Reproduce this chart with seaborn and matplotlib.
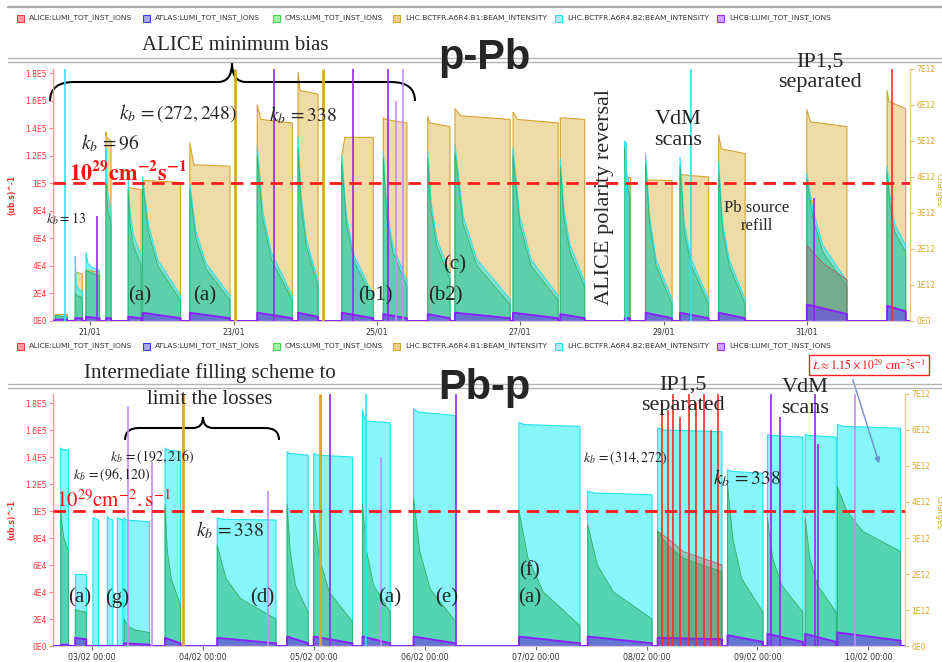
import matplotlib
matplotlib.use("Agg")
import matplotlib.pyplot as plt
import numpy as np
import pandas as pd
import seaborn as sns
from matplotlib.path import Path
from matplotlib.patches import PathPatch, Rectangle, FancyArrowPatch
from matplotlib.lines import Line2D

# ---------------- p-Pb (January, day of month) ----------------
top_start = [20.51, 20.79, 20.94, 21.22, 21.53, 21.73, 22.39, 23.33, 23.90, 24.51, 25.09,
             25.71, 26.09, 26.90, 27.56, 28.46, 28.75, 29.23, 29.77, 31.00, 32.12]
top_end = [20.68, 20.89, 21.13, 21.29, 21.71, 22.26, 22.95, 23.82, 24.18, 24.95, 25.42,
           26.02, 26.86, 27.53, 27.90, 28.53, 29.12, 29.63, 30.14, 31.56, 32.38]
# B1 intensity (charges): start, after injection drop, end
top_b1 = [[0.2e12, 0.2e12, 0.2e12], [1.36e12, 1.36e12, 1.3e12], [1.4e12, 1.4e12, 1.35e12],
          [5.25e12, 5.1e12, 5.0e12], [3.7e12, 3.7e12, 3.65e12], [3.9e12, 3.9e12, 3.85e12],
          [4.95e12, 4.34e12, 4.3e12], [6.0e12, 5.6e12, 5.5e12], [6.9e12, 6.4e12, 6.3e12],
          [4.6e12, 5.1e12, 5.1e12], [5.65e12, 5.6e12, 5.5e12], [5.67e12, 5.5e12, 5.4e12],
          [5.9e12, 5.7e12, 5.6e12], [5.8e12, 5.6e12, 5.5e12], [5.64e12, 5.64e12, 5.6e12],
          [4.0e12, 4.0e12, 4.0e12], [3.92e12, 3.92e12, 3.9e12], [4.06e12, 4.06e12, 4.0e12],
          [5.17e12, 4.78e12, 4.65e12], [5.87e12, 5.53e12, 5.4e12], [6.4e12, 6.1e12, 5.9e12]]
# B2 intensity (charges) along each fill
top_b2 = [[0.15e12, 0.15e12, 0.14e12, 0.12e12], [1.8e12, 1.0e12, 0.9e12, 0.8e12],
          [1.9e12, 1.6e12, 1.5e12, 1.4e12], [4.8e12, 4.0e12, 3.5e12, 3.0e12],
          [3.9e12, 3.0e12, 2.4e12, 1.8e12], [4.0e12, 2.7e12, 1.7e12, 0.7e12],
          [3.8e12, 2.5e12, 1.6e12, 0.7e12], [4.9e12, 3.1e12, 1.9e12, 0.7e12],
          [5.1e12, 3.5e12, 2.3e12, 1.1e12], [4.6e12, 2.9e12, 1.8e12, 0.7e12],
          [4.7e12, 3.1e12, 2.1e12, 1.1e12], [4.7e12, 3.3e12, 2.3e12, 1.3e12],
          [4.9e12, 2.9e12, 1.7e12, 0.6e12], [4.8e12, 2.9e12, 1.7e12, 0.7e12],
          [4.5e12, 3.1e12, 2.1e12, 1.1e12], [5.0e12, 4.5e12, 4.1e12, 3.7e12],
          [4.65e12, 2.9e12, 1.7e12, 0.6e12], [4.55e12, 2.7e12, 1.7e12, 0.6e12],
          [4.4e12, 2.7e12, 1.7e12, 0.6e12], [4.1e12, 3.1e12, 2.1e12, 1.1e12],
          [4.3e12, 3.5e12, 2.7e12, 2.1e12]]
# CMS luminosity (ub.s)^-1 along each fill
top_cms = [[4e3, 4e3, 3.5e3, 3e3], [2.0e4, 1.9e4, 1.8e4, 1.7e4], [3.7e4, 3.6e4, 3.5e4, 3.3e4],
           [1.0e5, 9e4, 8e4, 7e4], [9.5e4, 7e4, 5.5e4, 4e4], [1.0e5, 6.5e4, 4e4, 1.5e4],
           [9.5e4, 6e4, 3.8e4, 1.5e4], [1.2e5, 7.5e4, 4.5e4, 1.5e4], [1.25e5, 8.5e4, 5.5e4, 2.5e4],
           [1.15e5, 7e4, 4.3e4, 1.5e4], [1.18e5, 7.5e4, 5e4, 2.5e4], [1.18e5, 8e4, 5.5e4, 3e4],
           [1.22e5, 7e4, 4e4, 1.2e4], [1.2e5, 7e4, 4e4, 1.5e4], [1.12e5, 7.5e4, 5e4, 2.5e4],
           [1.25e5, 1.1e5, 1.0e5, 9e4], [1.15e5, 7e4, 4e4, 1.2e4], [1.12e5, 6.5e4, 4e4, 1.2e4],
           [1.08e5, 6.5e4, 4e4, 1.2e4], [1.03e5, 7.5e4, 5e4, 2.5e4], [1.08e5, 8.5e4, 6.5e4, 5e4]]
top_lhcb_pk = [1e3, 2e3, 3e3, 2e3, 3e3, 6e3, 6e3, 6e3, 6e3, 6e3, 5e3, 5e3, 6e3, 6e3, 5e3,
               2e3, 6e3, 6e3, 6e3, 1.2e4, 1.1e4]
top_lhcb_end = [1e3, 2e3, 2e3, 2e3, 2e3, 2e3, 2e3, 2e3, 3e3, 2e3, 2e3, 2e3, 2e3, 2e3, 2e3,
                2e3, 2e3, 2e3, 2e3, 5e3, 7e3]
top_alice_idx = [19]
top_alice = [[5.5e4, 5.0e4, 4.2e4, 3.0e4]]
top_spike_day = [20.65, 21.10, 23.02, 23.57, 24.25, 24.67, 25.16, 25.27, 25.37, 28.48, 29.38, 31.10, 32.19]
top_spike_val = [1.83e5, 7.6e4, 1.83e5, 1.83e5, 1.83e5, 1.83e5, 1.83e5, 1.6e5, 1.83e5, 1.3e5,
                 1.83e5, 8.9e4, 1.83e5]
top_spike_src = ["B2", "LHCB", "B1", "LHCB", "B1", "LHCB", "LHCB", "LHCBl", "LHCBl", "B2", "B2",
                 "LHCB", "ALICE"]
top_ticks = [21, 23, 25, 27, 29, 31]
top_ticklabels = ["21/01", "23/01", "25/01", "27/01", "29/01", "31/01"]

# ---------------- Pb-p (February, day of month) ----------------
bot_start = [2.72, 2.85, 3.01, 3.14, 3.23, 3.29, 3.66, 4.13, 4.76, 5.00, 5.44, 5.90, 6.85,
             7.47, 8.10, 8.73, 9.09, 9.43, 9.72]
bot_end = [2.79, 2.95, 3.06, 3.19, 3.28, 3.52, 3.80, 4.66, 4.95, 5.35, 5.69, 6.28, 7.40,
           8.05, 8.68, 9.05, 9.41, 9.71, 10.29]
bot_b2 = [[5.5e12, 5.45e12, 5.45e12], [2.0e12, 2.0e12, 2.0e12], [3.56e12, 3.56e12, 3.5e12],
          [3.6e12, 3.56e12, 3.5e12], [3.56e12, 3.56e12, 3.5e12], [3.56e12, 3.5e12, 3.45e12],
          [5.5e12, 5.45e12, 5.4e12], [3.56e12, 3.52e12, 3.5e12], [5.4e12, 5.35e12, 5.3e12],
          [5.35e12, 5.3e12, 5.25e12], [6.56e12, 6.25e12, 6.2e12], [6.6e12, 6.5e12, 6.4e12],
          [6.2e12, 6.15e12, 6.1e12], [4.3e12, 4.25e12, 4.2e12], [6.06e12, 6.0e12, 5.95e12],
          [4.9e12, 4.85e12, 4.8e12], [5.87e12, 5.85e12, 5.8e12], [5.87e12, 5.85e12, 5.8e12],
          [6.15e12, 6.1e12, 6.05e12]]
bot_cms = [[1.0e5, 9e4, 8e4, 7e4], [2.7e4, 2.65e4, 2.6e4, 2.5e4], [0, 0, 0, 0], [0, 0, 0, 0],
           [0, 0, 0, 0], [2.0e4, 1.5e4, 1.2e4, 1e4], [1.05e5, 7e4, 5e4, 3e4],
           [7.5e4, 5e4, 3.5e4, 2e4], [1.05e5, 7e4, 4.5e4, 2.5e4], [1.0e5, 6.5e4, 4e4, 1.8e4],
           [1.05e5, 7e4, 4.5e4, 2.5e4], [1.1e5, 7e4, 4.2e4, 1.8e4], [1.0e5, 6.5e4, 4e4, 1.5e4],
           [9e4, 6e4, 4e4, 2e4], [8.5e4, 7.5e4, 6.5e4, 5.5e4], [1.2e5, 8e4, 5e4, 2.5e4],
           [9.5e4, 6.5e4, 4.5e4, 2.5e4], [9.5e4, 6.5e4, 4.5e4, 2.5e4], [1.18e5, 1.0e5, 8.5e4, 7e4]]
bot_lhcb_pk = [1e3, 6e3, 0, 0, 0, 2e3, 6e3, 6e3, 7e3, 7e3, 7e3, 7e3, 7e3, 7e3, 6e3, 8e3, 9e3,
               9e3, 1.0e4]
bot_lhcb_end = [1e3, 5e3, 0, 0, 0, 1e3, 2e3, 2e3, 2e3, 2e3, 2e3, 2e3, 2e3, 2e3, 5e3, 3e3, 3e3,
                3e3, 4e3]
bot_alice_idx = [14]
bot_alice = [[8.5e4, 8.0e4, 7.0e4, 6.0e4]]
bot_spike_day = [3.33, 3.54, 3.82, 4.59, 5.06, 5.15, 5.47, 5.61, 6.28, 8.14, 8.19, 8.24, 8.30,
                 8.38, 8.45, 8.52, 8.58, 8.64, 9.12, 9.20, 9.52, 9.55, 9.88]
bot_spike_val = [1.78e5, 1.36e5, 1.87e5, 1.15e5, 1.87e5, 1.87e5, 1.87e5, 1.4e5, 1.87e5, 1.8e5,
                 1.75e5, 1.87e5, 1.7e5, 1.87e5, 1.8e5, 1.87e5, 1.6e5, 1.87e5, 1.87e5, 1.7e5,
                 1.87e5, 1.5e5, 1.87e5]
bot_spike_src = ["LHCBl", "LHCBl", "B1", "LHCBl", "B1", "LHCB", "B2", "LHCBl", "LHCB",
                 "ALICE", "ALICE", "ALICE", "ALICE", "ALICE", "ALICE", "ALICE", "ALICE", "ALICE",
                 "LHCB", "LHCB", "LHCB", "LHCB", "LHCBl"]
bot_ticks = [3, 4, 5, 6, 7, 8, 9, 10]
bot_ticklabels = ["%02d/02 00:00" % d for d in bot_ticks]

left_ticks = [0, 2e4, 4e4, 6e4, 8e4, 1e5, 1.2e5, 1.4e5, 1.6e5, 1.8e5]
left_labels = ["0E0", "2E4", "4E4", "6E4", "8E4", "1E5", "1.2E5", "1.4E5", "1.6E5", "1.8E5"]
right_ticks = [0, 1e12, 2e12, 3e12, 4e12, 5e12, 6e12, 7e12]
right_labels = ["0E0", "1E12", "2E12", "3E12", "4E12", "5E12", "6E12", "7E12"]
ref_level = 1.0e5

legend_names = ["ALICE:LUMI_TOT_INST_IONS", "ATLAS:LUMI_TOT_INST_IONS", "CMS:LUMI_TOT_INST_IONS",
                "LHC.BCTFR.A6R4.B1:BEAM_INTENSITY", "LHC.BCTFR.A6R4.B2:BEAM_INTENSITY",
                "LHCB:LUMI_TOT_INST_IONS"]

# ---------------- styling ----------------
sns.set_theme(style="white")
plt.rcParams["font.family"] = ["DejaVu Sans"]
plt.rcParams["mathtext.fontset"] = "stix"
SERIF = "Liberation Serif"

COL = {"ALICE": "#ff2a2a", "B1": "#d9a62e", "B2": "#2fe3ee", "LHCB": "#9a22ff",
       "LHCBl": "#c58cff", "CMS": "#2fbf66"}
LEG_FACE = ["#f4a4a4", "#a8a8f4", "#a8f4a8", "#ead28e", "#a8f6f8", "#d4a4f8"]
LEG_EDGE = ["#e04848", "#3a3ae0", "#44d444", "#d0a232", "#3ad6e0", "#9a36e6"]

W, H = 942, 662
fig = plt.figure(figsize=(9.42, 6.62), dpi=100)

FR4 = [0.0, 0.15, 0.4, 1.0]
FR3 = [0.0, 0.1, 1.0]


def long_df(starts, ends, vals, fr):
    rows = []
    for i, (t0, t1, v) in enumerate(zip(starts, ends, vals)):
        d = t1 - t0
        ts = [t0] + [t0 + f * d for f in fr] + [t1]
        vs = [0.0] + list(v) + [0.0]
        for k, (t, y) in enumerate(zip(ts, vs)):
            rows.append({"fill": i, "order": k, "t": t, "v": y})
    return pd.DataFrame(rows)


def draw_area(ax, df, face, edge, alpha, lw=0.8):
    for _, g in df.groupby("fill"):
        ax.fill(g["t"], g["v"], color=face, alpha=alpha, lw=0, zorder=2)
    sns.lineplot(data=df, x="t", y="v", units="fill", estimator=None, sort=False,
                 color=edge, lw=lw, ax=ax, legend=False, zorder=3)


def lhcb_df(starts, ends, pk, en, lo, hi):
    ts, vs = [lo], [0.0]
    for t0, t1, p, e in zip(starts, ends, pk, en):
        ts += [t0, t0, t1, t1]
        vs += [0.0, p, e, 0.0]
    ts.append(hi)
    vs.append(0.0)
    return pd.DataFrame({"t": ts, "v": vs})


def setup_axes(rect, xlim, ylim_left, ticks, ticklabels):
    ax = fig.add_axes(rect)
    axr = ax.twinx()
    ax.set_zorder(axr.get_zorder() + 1)
    ax.patch.set_visible(False)
    axr.patch.set_facecolor("white")
    ax.set_xlim(*xlim)
    ax.set_ylim(0, ylim_left)
    axr.set_ylim(0, 7e12)
    ax.set_yticks(left_ticks, left_labels)
    axr.set_yticks(right_ticks, right_labels)
    ax.set_xticks(ticks, ticklabels)
    ax.tick_params(axis="x", length=3, width=0.8, color="#666666", labelsize=5.7,
                   labelcolor="#333333", pad=2, bottom=True)
    ax.tick_params(axis="y", length=3, width=0.8, color="#ff8080", labelsize=5.5,
                   labelcolor="#ff3030", pad=1.5, left=True)
    axr.tick_params(axis="y", length=3, width=0.8, color="#e0c070", labelsize=5.5,
                    labelcolor="#d8a828", pad=1.5, right=True)
    for s in ["top", "right"]:
        ax.spines[s].set_visible(False)
    for s in ["top", "left", "bottom"]:
        axr.spines[s].set_visible(False)
    ax.spines["left"].set_color("#ff9a9a")
    ax.spines["left"].set_linewidth(1.0)
    ax.spines["bottom"].set_color("#c8c8c8")
    axr.spines["right"].set_color("#e8cc80")
    axr.spines["right"].set_linewidth(1.0)
    ax.grid(False)
    axr.grid(False)
    return ax, axr


def spikes(ax, days, vals, srcs):
    for d, v, s in zip(days, vals, srcs):
        lw = 2.0 if s == "B1" else 1.2
        ax.vlines(d, 0, v, colors=COL[s], lw=lw, zorder=5)


def clear_labels(*axes):
    for a in axes:
        a.set_xlabel("")
        a.set_ylabel("")


# ---------------- top panel ----------------
ax1, ax1r = setup_axes([53 / W, 1 - 321 / H, 857 / W, 252 / H], (20.48, 32.44), 1.83e5,
                       top_ticks, top_ticklabels)
draw_area(ax1r, long_df(top_start, top_end, top_b1, FR3), "#e4c164", "#d4a432", 0.58)
draw_area(ax1r, long_df(top_start, top_end, top_b2, FR4), "#3ee3e8", "#2fe0ee", 0.6)
draw_area(ax1, long_df(top_start, top_end, top_cms, FR4), "#2cb87a", "#2fb86a", 0.42, lw=0.6)
al = long_df([top_start[i] for i in top_alice_idx], [top_end[i] for i in top_alice_idx],
             top_alice, FR4)
draw_area(ax1, al, "#a85a50", "#b05050", 0.3, lw=0.5)
lh = lhcb_df(top_start, top_end, top_lhcb_pk, top_lhcb_end, 20.48, 32.44)
ax1.fill(lh["t"], lh["v"], color="#6a3ae8", alpha=0.6, lw=0, zorder=4)
sns.lineplot(data=lh, x="t", y="v", sort=False, estimator=None, color="#8a22ff", lw=1.4,
             ax=ax1, legend=False, zorder=4)
spikes(ax1, top_spike_day, top_spike_val, top_spike_src)
ax1.axhline(ref_level, color="#ff1a1a", lw=2.0, dashes=(4.5, 2.6), zorder=6)
clear_labels(ax1, ax1r)

# ---------------- bottom panel ----------------
ax2, ax2r = setup_axes([53 / W, 1 - 646 / H, 852 / W, 252 / H], (2.65, 10.33), 1.867e5,
                       bot_ticks, bot_ticklabels)
draw_area(ax2r, long_df(bot_start, bot_end, bot_b2, FR3), "#5ff4f8", "#22e2ee", 0.75)
draw_area(ax2, long_df(bot_start, bot_end, bot_cms, FR4), "#2cb878", "#2fb060", 0.55, lw=0.6)
al2 = long_df([bot_start[i] for i in bot_alice_idx], [bot_end[i] for i in bot_alice_idx],
              bot_alice, FR4)
draw_area(ax2, al2, "#a8604a", "#b05050", 0.35, lw=0.5)
lh2 = lhcb_df(bot_start, bot_end, bot_lhcb_pk, bot_lhcb_end, 2.65, 10.33)
ax2.fill(lh2["t"], lh2["v"], color="#6a3ae8", alpha=0.6, lw=0, zorder=4)
sns.lineplot(data=lh2, x="t", y="v", sort=False, estimator=None, color="#8a22ff", lw=1.4,
             ax=ax2, legend=False, zorder=4)
spikes(ax2, bot_spike_day, bot_spike_val, bot_spike_src)
ax2.axhline(ref_level, color="#ff1a1a", lw=2.0, dashes=(4.5, 2.6), zorder=6)
clear_labels(ax2, ax2r)


# ---------------- figure decorations ----------------
def fx(x):
    return x / W


def fy(y):
    return 1 - y / H


def hline(y, x0=8, x1=942, c="#b4b4b4", lw=1.0):
    fig.add_artist(Line2D([fx(x0), fx(x1)], [fy(y), fy(y)], color=c, lw=lw,
                          transform=fig.transFigure))


hline(6.5, lw=1.6, c="#a8a8a8")
hline(58)
hline(62)
hline(384)
hline(388)


def legend_row(y):
    xs = [17, 143, 273, 393, 555, 717]
    for name, x, fc, ec in zip(legend_names, xs, LEG_FACE, LEG_EDGE):
        fig.add_artist(Rectangle((fx(x), fy(y + 3.5)), 7 / W, 7 / H, facecolor=fc,
                                 edgecolor=ec, lw=0.8, transform=fig.transFigure))
        fig.text(fx(x + 12), fy(y), name, fontsize=5.4, color="#333333", ha="left",
                 va="center")


legend_row(18)
legend_row(346)


def ftext(x, y, s, **kw):
    kw.setdefault("ha", "center")
    kw.setdefault("va", "center")
    fig.text(fx(x), fy(y), s, **kw)


def brace(x0, x1, xm, y_end, y_bar, y_tip, r, rm):
    P = lambda x, y: (fx(x), fy(y))
    verts = [P(x0, y_end), P(x0, y_bar), P(x0 + r, y_bar),
             P(xm - rm, y_bar), P(xm, y_bar), P(xm, y_tip),
             P(xm, y_bar), P(xm + rm, y_bar),
             P(x1 - r, y_bar), P(x1, y_bar), P(x1, y_end)]
    codes = [Path.MOVETO, Path.CURVE3, Path.CURVE3, Path.LINETO, Path.CURVE3, Path.CURVE3,
             Path.CURVE3, Path.CURVE3, Path.LINETO, Path.CURVE3, Path.CURVE3]
    fig.add_artist(PathPatch(Path(verts, codes), fill=False, lw=1.5, ec="black",
                             transform=fig.transFigure))


# axis titles
for yc in (195, 520):
    ftext(12, yc, r"(ub.s)^-1", fontsize=5.5, color="#ff3030", rotation=90, weight="bold")
for yc in (190, 513):
    ftext(939, yc, "Charges", fontsize=5.8, color="#d8a828", rotation=270)

# top annotations
ftext(235, 45, "ALICE minimum bias", family=SERIF, fontsize=15)
brace(50, 415, 232, 101, 82, 63, 24, 14)
ftext(484, 58, "p-Pb", family="Liberation Sans", weight="bold", fontsize=30)
ftext(178, 113, r"$k_b\,=(272,248)$", fontsize=14)
ftext(303, 115, r"$k_b\,=338$", fontsize=14)
ftext(110, 143, r"$k_b\,=96$", fontsize=14)
ftext(128, 172, r"$\mathbf{10^{29}cm^{-2}s^{-1}}$", fontsize=16, color="#ff1010")
ftext(66, 219, r"$k_b=13$", fontsize=10)
ftext(605, 197, "ALICE polarity reversal", family=SERIF, fontsize=16, rotation=90)
ftext(678, 130, "VdM\nscans", family=SERIF, fontsize=16, linespacing=1.1)
ftext(820, 72, "IP1,5\nseparated", family=SERIF, fontsize=16, linespacing=1.1)
ftext(757, 217, "Pb source\nrefill", family=SERIF, fontsize=12, linespacing=1.1)
for x, y, s in [(140, 296, "(a)"), (205, 296, "(a)"), (375, 296, "(b1)"), (445, 296, "(b2)"),
                (455, 265, "(c)")]:
    ftext(x, y, s, family=SERIF, fontsize=15)

# bottom annotations
ftext(210, 373, "Intermediate filling scheme to", family=SERIF, fontsize=15)
ftext(210, 400, "limit the losses", family=SERIF, fontsize=15)
brace(125, 279, 203, 440, 428, 417, 14, 10)
ftext(484, 388, "Pb-p", family="Liberation Sans", weight="bold", fontsize=30)
ftext(152, 457, r"$k_b\,=(192,216)$", fontsize=10)
ftext(112, 475, r"$k_b\,=(96,120)$", fontsize=10)
ftext(114, 500, r"$10^{29}\mathrm{cm}^{-2}.\mathrm{s}^{-1}$", fontsize=15, color="#ff1010")
ftext(230, 530, r"$k_b\,=338$", fontsize=14)
ftext(683, 395, "IP1,5\nseparated", family=SERIF, fontsize=16, linespacing=1.1)
ftext(805, 398, "VdM\nscans", family=SERIF, fontsize=16, linespacing=1.1)
ftext(625, 458, r"$k_b\,=(314,272)$", fontsize=10)
ftext(747, 478, r"$k_b\,=338$", fontsize=14)
for x, y, s in [(80, 598, "(a)"), (117, 598, "(g)"), (262, 598, "(d)"), (390, 598, "(a)"),
                (447, 598, "(e)"), (530, 571, "(f)"), (530, 598, "(a)")]:
    ftext(x, y, s, family=SERIF, fontsize=15)
fig.text(fx(869), fy(365), r"$L\approx1.15\times10^{29}\ \mathrm{cm}^{-2}\mathrm{s}^{-1}$",
         fontsize=8.5, color="#ff1010", ha="center", va="center",
         bbox=dict(boxstyle="square,pad=0.25", fc="white", ec="#ff2020", lw=1))
fig.add_artist(FancyArrowPatch((fx(852), fy(377)), (fx(880), fy(466)),
                               transform=fig.transFigure, arrowstyle="-|>", mutation_scale=8,
                               color="#6f8fc8", lw=1))

fig.savefig("out.png", dpi=100)
